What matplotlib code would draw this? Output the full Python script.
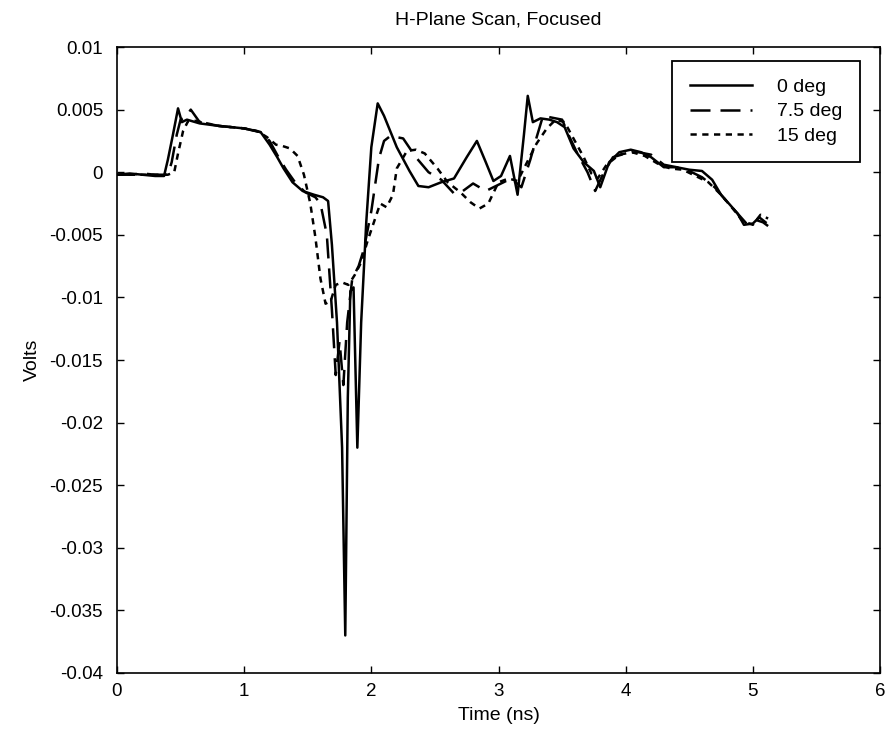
import matplotlib
matplotlib.use("Agg")
import matplotlib.pyplot as plt

# --- data (time in ns, volts) ---
t_0deg = [0, 0.1, 0.2, 0.3, 0.37, 0.40, 0.44, 0.48, 0.51, 0.55, 0.65, 0.8, 1.0, 1.13,
          1.2, 1.26, 1.31, 1.38, 1.46, 1.55, 1.62, 1.66, 1.69, 1.73, 1.77, 1.795, 1.815,
          1.835, 1.86, 1.89, 1.92, 1.96, 2.0, 2.05, 2.1, 2.2, 2.3, 2.37, 2.45, 2.55, 2.65,
          2.75, 2.83, 2.9, 2.96, 3.02, 3.09, 3.15, 3.2, 3.23, 3.27, 3.33, 3.4, 3.46, 3.52,
          3.59, 3.67, 3.75, 3.8, 3.87, 3.95, 4.04, 4.12, 4.2, 4.3, 4.4, 4.5, 4.6, 4.68,
          4.75, 4.82, 4.88, 4.93, 5.0, 5.05, 5.1]
v_0deg = [-0.0002, -0.0001, -0.0002, -0.0003, -0.0003, 0.001, 0.003, 0.0051, 0.004, 0.0042,
          0.0039, 0.0037, 0.0035, 0.0032, 0.0022, 0.0012, 0.0003, -0.0008, -0.0015, -0.0018,
          -0.002, -0.0023, -0.0058, -0.012, -0.022, -0.037, -0.018, -0.0095, -0.0092, -0.022,
          -0.012, -0.004, 0.002, 0.0055, 0.0045, 0.002, 0.0001, -0.0011, -0.0012, -0.0008,
          -0.0005, 0.0012, 0.0025, 0.0008, -0.0007, -0.0003, 0.0013, -0.0018, 0.003, 0.0061,
          0.004, 0.0043, 0.0042, 0.004, 0.0036, 0.0019, 0.0008, 0.0001, -0.0012, 0.0008,
          0.0016, 0.0018, 0.0016, 0.0012, 0.0004, 0.0004, 0.0002, 0.0001, -0.0006, -0.0018,
          -0.0026, -0.0033, -0.0042, -0.0041, -0.0036, -0.0040]

t_7deg = [0, 0.1, 0.2, 0.3, 0.4, 0.43, 0.47, 0.5, 0.54, 0.58, 0.65, 0.8, 1.0, 1.13, 1.2,
          1.27, 1.33, 1.4, 1.48, 1.56, 1.6, 1.65, 1.69, 1.72, 1.75, 1.78, 1.81, 1.85, 1.9,
          1.94, 2.0, 2.06, 2.1, 2.15, 2.25, 2.35, 2.45, 2.55, 2.65, 2.72, 2.8, 2.9, 3.0,
          3.1, 3.18, 3.25, 3.3, 3.35, 3.4, 3.5, 3.55, 3.62, 3.7, 3.76, 3.82, 3.9, 4.0, 4.1,
          4.2, 4.3, 4.4, 4.5, 4.6, 4.7, 4.8, 4.88, 4.95, 5.02, 5.08, 5.12]
v_7deg = [-0.0002, -0.0002, -0.0001, -0.0002, -0.0002, 0.0008, 0.003, 0.0042, 0.0044, 0.005,
          0.004, 0.0037, 0.0035, 0.0032, 0.0025, 0.0012, 0.0002, -0.0008, -0.0016, -0.002,
          -0.0025, -0.005, -0.011, -0.0162, -0.0135, -0.017, -0.012, -0.0085, -0.0075,
          -0.0062, -0.0031, 0.0011, 0.0025, 0.0029, 0.0027, 0.0012, 0.0, -0.0006, -0.0017,
          -0.0015, -0.0009, -0.0015, -0.001, -0.0005, -0.0012, 0.001, 0.0028, 0.0045,
          0.0044, 0.0042, 0.003, 0.0015, 0.0, -0.0015, -0.0002, 0.0012, 0.0015, 0.0016,
          0.0014, 0.0006, 0.0004, 0.0001, -0.0004, -0.0012, -0.0024, -0.0033, -0.0041,
          -0.0038, -0.004, -0.0043]

t_15deg = [0, 0.1, 0.2, 0.3, 0.4, 0.45, 0.48, 0.52, 0.56, 0.62, 0.8, 1.0, 1.1, 1.18, 1.25,
           1.3, 1.36, 1.42, 1.47, 1.52, 1.56, 1.6, 1.64, 1.68, 1.72, 1.77, 1.82, 1.87, 1.92,
           1.97, 2.02, 2.07, 2.12, 2.17, 2.2, 2.28, 2.35, 2.42, 2.52, 2.6, 2.7, 2.78, 2.85,
           2.92, 3.0, 3.08, 3.15, 3.22, 3.3, 3.38, 3.45, 3.52, 3.6, 3.67, 3.73, 3.78, 3.85,
           3.95, 4.05, 4.15, 4.25, 4.35, 4.45, 4.55, 4.65, 4.75, 4.85, 4.92, 5.0, 5.06, 5.12]
v_15deg = [-0.0002, -0.0002, -0.0002, -0.0002, -0.0002, 0.0, 0.0015, 0.0033, 0.0041, 0.0041,
           0.0037, 0.0035, 0.0033, 0.0028, 0.0022, 0.0021, 0.0019, 0.0013, -0.0002, -0.0025,
           -0.0052, -0.0085, -0.0105, -0.0103, -0.009, -0.0088, -0.009, -0.0082, -0.0072,
           -0.0055, -0.004, -0.0025, -0.0028, -0.0018, 0.0003, 0.0017, 0.0018, 0.0015,
           0.0003, -0.0008, -0.0016, -0.0024, -0.0029, -0.0025, -0.0008, -0.0005, -0.0007,
           0.0007, 0.0023, 0.0035, 0.0042, 0.004, 0.0025, 0.0012, -0.0001, -0.0005, 0.0006,
           0.0014, 0.0016, 0.0013, 0.0007, 0.0003, 0.0002, -0.0003, -0.0008, -0.0018, -0.003,
           -0.0039, -0.0042, -0.0034, -0.0037]

labels = ["0 deg", "7.5 deg", "15 deg"]
x_ticks = [0, 1, 2, 3, 4, 5, 6]
y_ticks = [-0.04, -0.035, -0.03, -0.025, -0.02, -0.015, -0.01, -0.005, 0, 0.005, 0.01]
y_tick_labels = ["-0.04", "-0.035", "-0.03", "-0.025", "-0.02", "-0.015", "-0.01",
                 "-0.005", "0", "0.005", "0.01"]

plt.rcParams['font.family'] = ['Liberation Sans', 'DejaVu Sans']
fs = 14
fs_tick = 13.5

fig = plt.figure(figsize=(8.89, 7.36), dpi=100)
ax = fig.add_axes([0.1316, 0.0856, 0.8583, 0.8505])

lw = 1.8
ax.plot(t_0deg, v_0deg, color='black', linewidth=lw, linestyle='-', label=labels[0])
ax.plot(t_7deg, v_7deg, color='black', linewidth=lw, linestyle=(0, (8, 4)), label=labels[1])
ax.plot(t_15deg, v_15deg, color='black', linewidth=lw, linestyle=(0, (2.5, 2.2)), label=labels[2])

ax.set_xlim(0, 6)
ax.set_ylim(-0.04, 0.01)
ax.set_xticks(x_ticks)
ax.set_xticklabels([str(v) for v in x_ticks])
ax.set_yticks(y_ticks)
ax.set_yticklabels(y_tick_labels)
ax.tick_params(direction='in', top=True, right=True, length=5, width=1,
               labelsize=fs_tick)
ax.tick_params(axis='y', pad=10)
ax.tick_params(axis='x', pad=7)
for s in ax.spines.values():
    s.set_linewidth(1.2)

ax.set_title("H-Plane Scan, Focused", fontsize=fs, pad=16)
ax.set_xlabel("Time (ns)", fontsize=fs, labelpad=5)
ax.set_ylabel("Volts", fontsize=fs, labelpad=6)

leg = ax.legend(loc='upper right', bbox_to_anchor=(0.974, 0.978), borderaxespad=0,
                fontsize=fs, frameon=True, fancybox=False, framealpha=1,
                handlelength=3.2, handletextpad=1.3, labelspacing=0.35, borderpad=0.9)
leg.get_frame().set_edgecolor('black')
leg.get_frame().set_linewidth(1.3)

fig.savefig("out.png", dpi=100)
